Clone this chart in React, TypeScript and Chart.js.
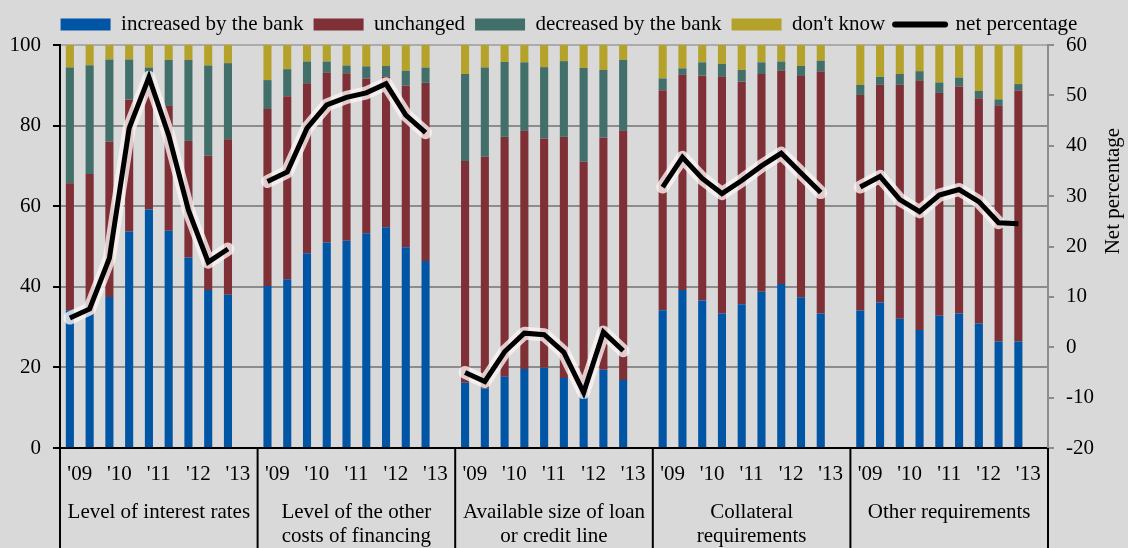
import React, { useEffect, useRef } from 'react';
import { Chart, registerables } from 'chart.js';

Chart.register(...registerables);

const FONT = '"Liberation Serif", "Times New Roman", serif';

const groupLabels: string[][] = [
  ['Level of interest rates'],
  ['Level of the other', 'costs of financing'],
  ['Available size of loan', 'or credit line'],
  ['Collateral', 'requirements'],
  ['Other requirements'],
];
const yearLabels = ["'09", "'10", "'11", "'12", "'13"];
const periodsPerGroup = 9;

const seriesNames = ['increased by the bank', 'unchanged', 'decreased by the bank', "don't know", 'net percentage'];

const increased = [
  [34.2, 33.4, 37.5, 53.7, 59.2, 53.9, 47.3, 39.2, 38.0],
  [40.2, 41.9, 48.3, 51.0, 51.4, 53.3, 54.8, 49.8, 46.4],
  [16.2, 14.8, 17.7, 19.6, 19.9, 17.4, 13.0, 19.4, 16.9],
  [34.2, 39.2, 36.6, 33.4, 35.7, 38.8, 40.7, 37.4, 33.4],
  [34.1, 36.1, 32.1, 29.3, 32.8, 33.4, 30.9, 26.4, 26.4],
];
const unchanged = [
  [31.5, 34.6, 38.5, 32.8, 29.7, 31.0, 28.9, 33.3, 38.6],
  [43.9, 45.4, 42.2, 42.1, 41.6, 38.4, 37.3, 40.1, 44.2],
  [55.0, 57.5, 59.5, 59.1, 56.9, 59.8, 58.0, 57.6, 61.8],
  [54.6, 53.4, 55.8, 58.7, 55.2, 54.0, 52.9, 54.9, 60.0],
  [53.5, 54.0, 58.0, 61.8, 55.3, 56.3, 55.9, 58.5, 62.3],
];
const decreased = [
  [28.7, 27.0, 20.4, 9.9, 5.5, 11.4, 20.1, 22.4, 18.9],
  [7.2, 6.7, 5.4, 2.8, 1.9, 3.0, 2.7, 3.7, 3.8],
  [21.6, 22.1, 18.6, 17.0, 17.7, 18.8, 23.3, 16.8, 17.6],
  [2.9, 1.6, 3.3, 3.2, 2.9, 2.9, 2.3, 2.5, 2.7],
  [2.5, 2.0, 2.7, 2.4, 2.6, 2.2, 1.8, 1.6, 1.6],
];
const dontKnow = [
  [5.6, 5.0, 3.6, 3.6, 5.6, 3.7, 3.7, 5.1, 4.5],
  [8.7, 6.0, 4.1, 4.1, 5.1, 5.3, 5.2, 6.4, 5.6],
  [7.2, 5.6, 4.2, 4.3, 5.5, 4.0, 5.7, 6.2, 3.7],
  [8.3, 5.8, 4.3, 4.7, 6.2, 4.3, 4.1, 5.2, 3.9],
  [9.9, 7.9, 7.2, 6.5, 9.3, 8.1, 11.4, 13.5, 9.7],
];
const netPercentage = [
  [5.8, 7.6, 17.7, 43.5, 53.6, 42.1, 27.2, 16.9, 19.5],
  [32.9, 34.8, 43.5, 48.1, 49.6, 50.5, 52.3, 46.1, 42.6],
  [-5.0, -6.8, -0.9, 2.8, 2.5, -1.0, -9.0, 3.0, -0.7],
  [31.8, 37.7, 33.5, 30.5, 33.1, 36.0, 38.5, 34.6, 30.7],
  [31.8, 33.9, 29.3, 26.9, 30.2, 31.3, 28.9, 24.7, 24.5],
];

const colors = ['#0055A4', '#7F2F36', '#436F6A', '#B4A22A', '#000000'];

// each group gets its 9 half-year bars plus one empty slot
const flatten = (arr: number[][]) => arr.flatMap((g) => [...g, null]);

const bottomPlugin = {
  id: 'bottomLabels',
  afterDraw(chart: any) {
    const { ctx, chartArea, scales } = chart;
    const x = scales.x;
    const y2 = scales.y2;
    const per = periodsPerGroup + 1;
    const px = (i: number) => x.getPixelForValue(i);
    ctx.save();
    ctx.strokeStyle = '#000';
    ctx.lineWidth = 2;
    for (let g = 0; g <= groupLabels.length; g++) {
      let xx: number;
      if (g === 0) xx = chartArea.left;
      else if (g === groupLabels.length) xx = chartArea.right;
      else xx = (px(g * per - 1) + px(g * per)) / 2;
      ctx.beginPath();
      ctx.moveTo(xx, chartArea.bottom);
      ctx.lineTo(xx, chart.height);
      ctx.stroke();
    }
    ctx.fillStyle = '#000';
    ctx.font = `21px ${FONT}`;
    ctx.textAlign = 'center';
    ctx.textBaseline = 'alphabetic';
    groupLabels.forEach((lines, g) => {
      yearLabels.forEach((lab, k) => {
        const i = g * per + 2 * k;
        ctx.fillText(lab, (px(i) + px(i + 1)) / 2, chartArea.bottom + 32);
      });
      const cx = (px(g * per) + px(g * per + per - 1)) / 2;
      lines.forEach((ln, li) => ctx.fillText(ln, cx, chartArea.bottom + 70 + li * 24));
    });
    ctx.translate(y2.right - 15, y2.getPixelForValue(31));
    ctx.rotate(-Math.PI / 2);
    ctx.textBaseline = 'middle';
    ctx.fillText('Net percentage', 0, 0);
    ctx.restore();
  },
};

export default function App() {
  const ref = useRef<HTMLCanvasElement>(null);
  useEffect(() => {
    const labels = groupLabels.flatMap((_, gi) =>
      Array.from({ length: periodsPerGroup + 1 }, (_, i) => `${gi}-${i}`)
    );
    const netFlat = flatten(netPercentage);
    const glowFlat = netFlat.map((v, i) => (i === netFlat.length - 2 ? null : v));
    const barSeries = [increased, unchanged, decreased, dontKnow];
    const datasets: any[] = barSeries.map((s, i) => ({
      type: 'bar',
      label: seriesNames[i],
      data: flatten(s),
      backgroundColor: colors[i],
      borderWidth: 0,
      barPercentage: 0.41,
      categoryPercentage: 1,
      yAxisID: 'y',
      stack: 's',
      order: 3,
    }));
    datasets.push({
      type: 'line',
      label: 'glow',
      data: glowFlat,
      borderColor: 'rgba(250,242,242,0.8)',
      borderWidth: 13,
      pointRadius: 0,
      tension: 0,
      borderJoinStyle: 'round',
      borderCapStyle: 'round',
      yAxisID: 'y2',
      order: 2,
    });
    datasets.push({
      type: 'line',
      label: seriesNames[4],
      data: netFlat,
      borderColor: colors[4],
      backgroundColor: colors[4],
      borderWidth: 5,
      pointRadius: 0,
      tension: 0,
      borderJoinStyle: 'miter',
      borderCapStyle: 'butt',
      yAxisID: 'y2',
      order: 1,
    });

    const chart = new Chart(ref.current as HTMLCanvasElement, {
      type: 'bar',
      data: { labels, datasets },
      plugins: [bottomPlugin],
      options: {
        responsive: false,
        animation: false,
        events: [],
        layout: { padding: { top: -7, left: 10, right: 0, bottom: 0 } },
        plugins: {
          tooltip: { enabled: false },
          legend: {
            position: 'top',
            align: 'center',
            labels: {
              font: { family: FONT, size: 21 },
              color: '#000',
              usePointStyle: true,
              pointStyleWidth: 50,
              boxHeight: 12,
              padding: 10,
              filter: (item: any) => item.text !== 'glow',
              sort: (a: any, b: any) => a.datasetIndex - b.datasetIndex,
              generateLabels: (c: any) => {
                const items = (Chart.defaults.plugins.legend.labels as any).generateLabels(c);
                return items.map((it: any) => {
                  const ds = c.data.datasets[it.datasetIndex];
                  if (ds.type === 'line') {
                    it.pointStyle = 'line';
                    it.lineWidth = 6;
                    it.strokeStyle = '#000';
                    it.lineCap = 'round';
                  } else {
                    it.pointStyle = 'rect';
                    it.lineWidth = 0;
                  }
                  return it;
                });
              },
            },
          },
        },
        scales: {
          x: {
            type: 'category',
            stacked: true,
            offset: true,
            grid: { display: false },
            ticks: { display: false },
            border: { display: true, color: '#000', width: 2 },
            afterFit: (s: any) => {
              s.height = 100;
            },
          },
          y: {
            stacked: true,
            min: 0,
            max: 100,
            position: 'left',
            ticks: { stepSize: 20, color: '#000', font: { family: FONT, size: 21 }, padding: 12 },
            grid: {
              color: (c: any) =>
                c.tick && c.tick.value === 0 ? 'rgba(0,0,0,0)' : c.tick && c.tick.value === 100 ? '#ababab' : '#8c8c8c',
              lineWidth: 2,
              tickColor: '#000',
              tickLength: 7,
            },
            border: { color: '#000', width: 2 },
            afterFit: (s: any) => {
              s.width = 50;
              s.paddingTop = 45;
            },
          },
          y2: {
            position: 'right',
            min: -20,
            max: 60,
            ticks: { stepSize: 10, color: '#000', font: { family: FONT, size: 21 }, padding: 12 },
            grid: { drawOnChartArea: false, color: '#8c8c8c', tickColor: '#8c8c8c', tickLength: 6, lineWidth: 2 },
            border: { color: '#8c8c8c', width: 2 },
            afterFit: (s: any) => {
              s.width = 80;
            },
          },
        },
      } as any,
    });
    return () => chart.destroy();
  }, []);

  return (
    <div style={{ position: 'fixed', left: 0, top: 0, width: 1128, height: 548, background: '#d9d9d9' }}>
      <canvas ref={ref} width={1128} height={548} style={{ display: 'block' }} />
    </div>
  );
}
